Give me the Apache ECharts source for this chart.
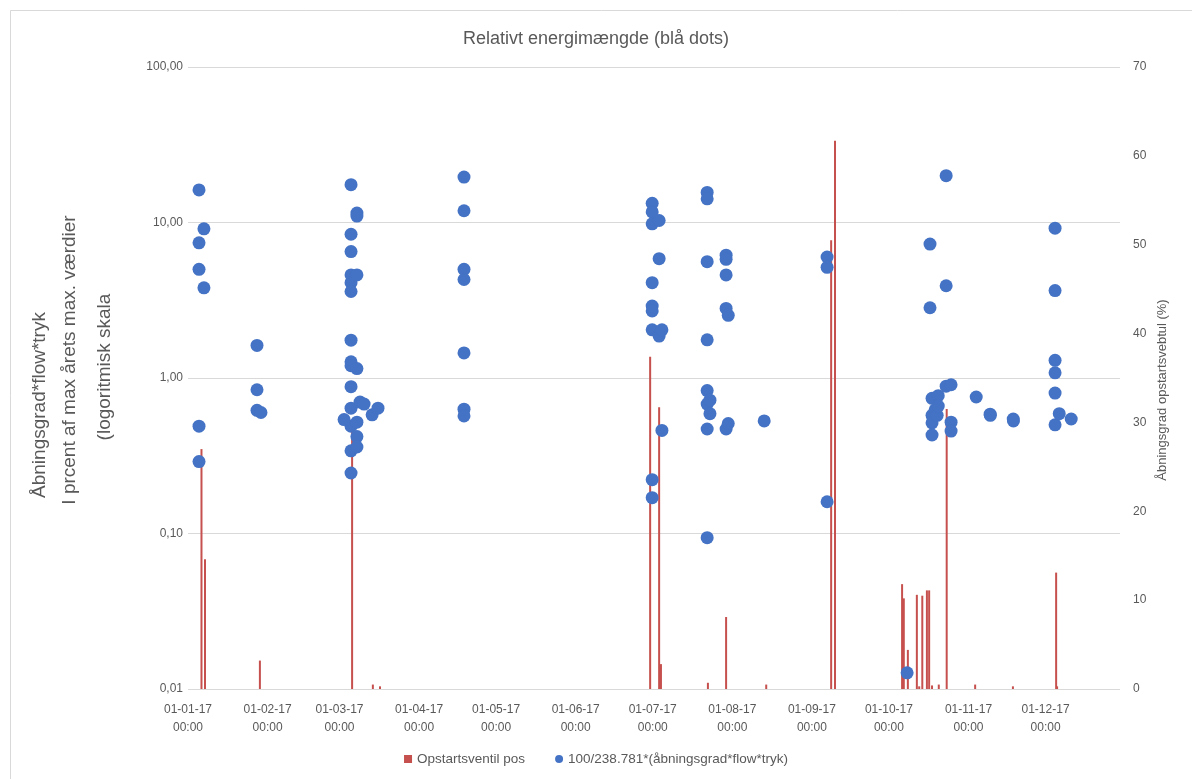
<!DOCTYPE html>
<html>
<head>
<meta charset="utf-8">
<script src="https://cdn.jsdelivr.net/npm/echarts@6/dist/echarts.min.js"></script>
<style>html,body{margin:0;padding:0;background:#fff}#c{width:1192px;height:779px}</style>
</head>
<body>
<div id="c"></div>
<script>
// ---- data ----
const monthTicks = ['2017-01-01','2017-02-01','2017-03-01','2017-04-01','2017-05-01','2017-06-01',
  '2017-07-01','2017-08-01','2017-09-01','2017-10-01','2017-11-01','2017-12-01'];
const leftTicks = [0.01, 0.1, 1, 10, 100];

// Opstartsventil pos (right axis, %)
const barTimes = ['2017-01-06 06:00','2017-01-07 15:00','2017-01-29 00:00','2017-03-05 22:00','2017-03-14 00:00','2017-03-16 19:00',
  '2017-06-30 00:00','2017-07-03 12:00','2017-07-04 05:00','2017-07-22 12:00','2017-07-29 14:00','2017-08-14 05:00',
  '2017-09-08 12:00','2017-09-10 00:00',
  '2017-10-06 03:00','2017-10-06 19:00','2017-10-08 09:00','2017-10-11 21:00','2017-10-12 19:00','2017-10-14 00:00',
  '2017-10-15 19:00','2017-10-16 16:00','2017-10-17 19:00','2017-10-20 10:00','2017-10-23 12:00','2017-11-03 14:00',
  '2017-11-18 07:00','2017-12-05 03:00','2017-12-05 12:00'];
const barValues = [27.0,14.6,3.2,29.8,0.5,0.3,
  37.4,31.7,2.8,0.7,8.1,0.5,
  50.5,61.7,
  11.8,10.2,4.4,10.6,0.3,10.5,
  11.1,11.1,0.4,0.5,31.5,0.5,
  0.3,13.1,0.3];

// 100/238.781*(åbningsgrad*flow*tryk) (left log axis)
const dotTimes = [
  '2017-01-05 07:00','2017-01-07 05:00','2017-01-05 07:00','2017-01-05 07:00','2017-01-07 05:00','2017-01-05 07:00','2017-01-05 07:00',
  '2017-01-27 21:00','2017-01-27 21:00','2017-01-27 21:00','2017-01-29 10:00',
  '2017-03-05 12:00','2017-03-05 12:00','2017-03-05 12:00','2017-03-05 12:00','2017-03-05 12:00','2017-03-05 12:00','2017-03-05 12:00',
  '2017-03-05 12:00','2017-03-05 12:00','2017-03-05 12:00','2017-03-05 12:00','2017-03-05 12:00','2017-03-05 12:00','2017-03-05 12:00',
  '2017-03-07 19:00','2017-03-07 19:00','2017-03-07 19:00','2017-03-07 19:00','2017-03-07 19:00','2017-03-07 19:00','2017-03-07 19:00',
  '2017-03-09 00:00','2017-03-10 14:00','2017-03-02 19:00','2017-03-13 17:00','2017-03-16 00:00',
  '2017-04-18 12:00','2017-04-18 12:00','2017-04-18 12:00','2017-04-18 12:00','2017-04-18 12:00','2017-04-18 12:00','2017-04-18 12:00',
  '2017-06-30 19:00','2017-06-30 19:00','2017-06-30 19:00','2017-06-30 19:00','2017-06-30 19:00','2017-06-30 19:00','2017-06-30 19:00','2017-06-30 19:00','2017-06-30 19:00',
  '2017-07-03 12:00','2017-07-03 12:00','2017-07-03 12:00','2017-07-04 14:00','2017-07-04 14:00',
  '2017-07-22 05:00','2017-07-22 05:00','2017-07-22 05:00','2017-07-22 05:00','2017-07-22 05:00','2017-07-22 05:00','2017-07-22 05:00','2017-07-22 05:00',
  '2017-07-23 07:00','2017-07-23 07:00',
  '2017-07-29 14:00','2017-07-29 14:00','2017-07-29 14:00','2017-07-29 14:00','2017-07-29 14:00','2017-07-30 10:00','2017-07-30 10:00',
  '2017-08-13 10:00',
  '2017-09-06 22:00','2017-09-06 22:00','2017-09-06 22:00',
  '2017-10-08 02:00',
  '2017-10-17 00:00','2017-10-17 00:00','2017-10-17 19:00','2017-10-17 19:00','2017-10-17 19:00','2017-10-17 19:00',
  '2017-10-19 00:00','2017-10-19 19:00','2017-10-20 05:00','2017-10-20 05:00',
  '2017-10-23 07:00','2017-10-23 07:00','2017-10-23 07:00','2017-10-25 05:00','2017-10-25 05:00','2017-10-25 05:00',
  '2017-11-04 00:00','2017-11-09 10:00','2017-11-09 12:00','2017-11-18 10:00','2017-11-18 12:00',
  '2017-12-04 17:00','2017-12-04 17:00','2017-12-04 17:00','2017-12-04 17:00','2017-12-04 17:00','2017-12-04 17:00',
  '2017-12-06 08:00','2017-12-11 00:00'];
const dotValues = [
  16.2,9.1,7.4,5.0,3.8,0.49,0.29,
  1.62,0.84,0.62,0.60,
  17.5,8.4,6.5,4.6,4.1,3.6,1.75,
  1.27,1.2,0.88,0.64,0.49,0.34,0.245,
  11.5,11.0,4.6,1.15,0.52,0.42,0.36,
  0.70,0.68,0.54,0.58,0.64,
  19.6,11.9,5.0,4.3,1.45,0.63,0.57,
  13.3,11.7,9.8,4.1,2.9,2.7,2.04,0.222,0.17,
  10.3,5.85,1.86,2.04,0.46,
  15.6,14.2,5.6,1.76,0.83,0.68,0.47,0.094,
  0.72,0.59,
  6.16,5.8,4.6,2.8,0.47,2.53,0.51,
  0.53,
  6.0,5.15,0.16,
  0.0127,
  7.26,2.83,0.74,0.575,0.515,0.43,
  0.625,0.575,0.77,0.66,
  20.0,3.92,0.886,0.905,0.52,0.456,
  0.755,0.585,0.575,0.545,0.53,
  9.2,3.65,1.30,1.08,0.80,0.50,
  0.59,0.545];

// ---- helpers ----
const DAY = 86400000;
function ts(s){
  const p = s.split(' ');
  const d = p[0].split('-').map(Number);
  const t = (p[1] || '00:00').split(':').map(Number);
  return Date.UTC(d[0], d[1]-1, d[2], t[0], t[1]);
}
const T0 = ts('2017-01-01');
function dayOf(s){ return (ts(s) - T0) / DAY; }
function pad(n){ return (n < 10 ? '0' : '') + n; }
function dayLabel(v){
  const d = new Date(T0 + Math.round(v) * DAY);
  return pad(d.getUTCDate()) + '-' + pad(d.getUTCMonth()+1) + '-' + String(d.getUTCFullYear()).slice(2) + '\n00:00';
}

const FONT = 'Liberation Sans';
const TXT = '#595959';
const GRID = '#d9d9d9';

const chart = echarts.init(document.getElementById('c'), null, {renderer:'canvas'});
chart.setOption({
  animation: false,
  backgroundColor: '#fff',
  textStyle: {fontFamily: FONT},
  title: {
    text: 'Relativt energimængde (blå dots)',
    left: 'center', top: 25,
    textStyle: {fontSize: 18, fontWeight: 'normal', color: TXT, fontFamily: FONT}
  },
  legend: {
    bottom: 8, left: 'center', itemGap: 30,
    itemWidth: 8, itemHeight: 8,
    textStyle: {fontSize: 13.5, color: TXT, fontFamily: FONT},
    data: [{name: 'Opstartsventil pos', icon: 'rect'}, {name: '100/238.781*(åbningsgrad*flow*tryk)', icon: 'circle'}]
  },
  grid: {left: 188, right: 72, top: 67, bottom: 90},
  xAxis: {
    type: 'value',
    min: 0, max: dayOf('2017-12-30'),
    axisLine: {show: false},
    axisTick: {show: false},
    splitLine: {show: false},
    axisLabel: {
      customValues: monthTicks.map(dayOf),
      color: TXT, fontSize: 12, lineHeight: 18, margin: 12, fontFamily: FONT,
      formatter: dayLabel
    }
  },
  yAxis: [{
    type: 'log', logBase: 10, min: leftTicks[0], max: leftTicks[leftTicks.length-1],
    axisLine: {show: false}, axisTick: {show: false},
    splitLine: {lineStyle: {color: GRID, width: 1}},
    axisLabel: {color: TXT, fontSize: 12, margin: 5, fontFamily: FONT,
      formatter: function(v){ return Number(v).toFixed(2).replace('.', ','); }}
  }, {
    type: 'value', min: 0, max: 70, interval: 10, position: 'right',
    axisLine: {show: false}, axisTick: {show: false}, splitLine: {show: false},
    axisLabel: {color: TXT, fontSize: 12, margin: 13, fontFamily: FONT}
  }],
  series: [{
    name: 'Opstartsventil pos', type: 'bar', yAxisIndex: 1,
    barWidth: 2, barGap: '-100%',
    itemStyle: {color: '#C5504D'},
    data: barTimes.map((t, i) => [dayOf(t), barValues[i]]),
    z: 2
  }, {
    name: '100/238.781*(åbningsgrad*flow*tryk)', type: 'scatter', yAxisIndex: 0,
    symbol: 'circle', symbolSize: 13,
    itemStyle: {color: '#4472C4', opacity: 1},
    data: dotTimes.map((t, i) => [dayOf(t), dotValues[i]]),
    z: 3
  }],
  graphic: [
    {type: 'rect', left: 8, top: 8, shape: {width: 1200, height: 800}, style: {fill: 'none', stroke: GRID, lineWidth: 1}, silent: true},
    {type: 'text', x: 40, y: 405, rotation: Math.PI/2, style: {text: 'Åbningsgrad*flow*tryk', fill: TXT, fontSize: 19, fontFamily: FONT, align: 'center', verticalAlign: 'middle'}},
    {type: 'text', x: 70, y: 360, rotation: Math.PI/2, style: {text: 'I prcent af max årets max. værdier', fill: TXT, fontSize: 19, fontFamily: FONT, align: 'center', verticalAlign: 'middle'}},
    {type: 'text', x: 105, y: 367, rotation: Math.PI/2, style: {text: '(logoritmisk skala', fill: TXT, fontSize: 19, fontFamily: FONT, align: 'center', verticalAlign: 'middle'}},
    {type: 'text', x: 1162, y: 390, rotation: Math.PI/2, style: {text: 'Åbningsgrad opstartsvebtul (%)', fill: TXT, fontSize: 13, fontFamily: FONT, align: 'center', verticalAlign: 'middle'}}
  ]
});
</script>
</body>
</html>
